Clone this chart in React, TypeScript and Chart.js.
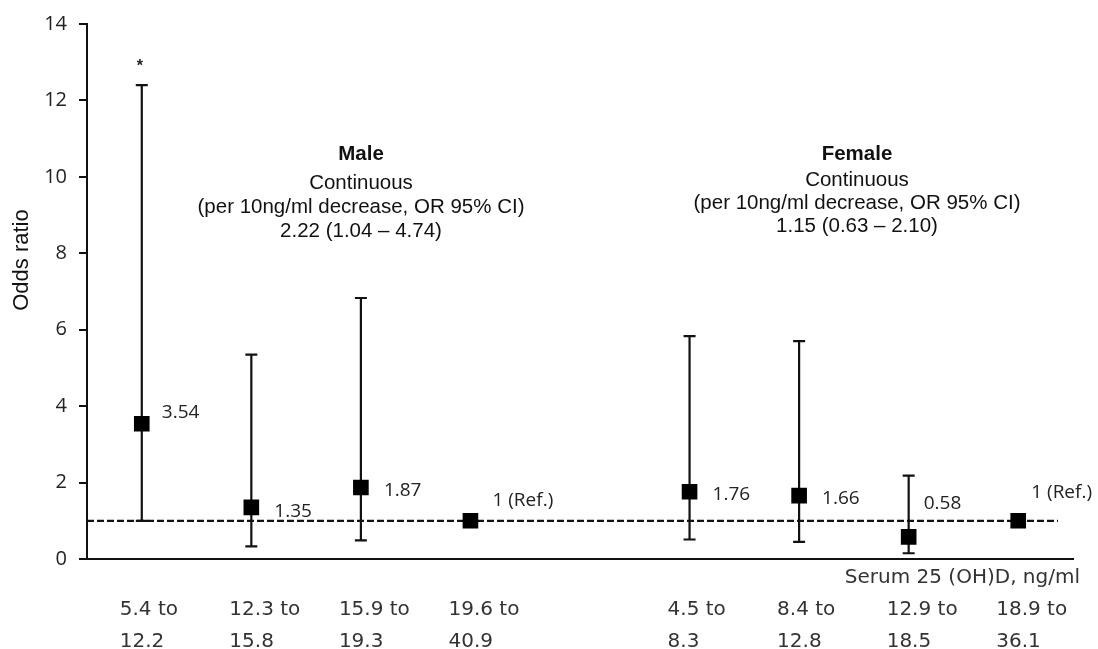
import React, { useEffect, useRef } from 'react';
import { Chart, registerables } from 'chart.js';

Chart.register(...registerables);

// ---- Data ----
const categories: (string[] | string)[] = [
  ['5.4 to', '12.2'],
  ['12.3 to', '15.8'],
  ['15.9 to', '19.3'],
  ['19.6 to', '40.9'],
  '',
  ['4.5 to', '8.3'],
  ['8.4 to', '12.8'],
  ['12.9 to', '18.5'],
  ['18.9 to', '36.1'],
];
const oddsRatio: (number | null)[] = [3.54, 1.35, 1.87, 1, null, 1.76, 1.66, 0.58, 1];
const ciLower: (number | null)[] = [1.0, 0.33, 0.49, null, null, 0.51, 0.45, 0.15, null];
const ciUpper: (number | null)[] = [12.4, 5.35, 6.83, null, null, 5.83, 5.7, 2.18, null];
const valueLabels: string[] = ['3.54', '1.35', '1.87', '1 (Ref.)', '', '1.76', '1.66', '0.58', '1 (Ref.)'];
const significance: string[] = ['*', '', '', '', '', '', '', '', ''];
const referenceValue = 1;
const yMin = 0;
const yMax = 14;
const yStep = 2;
const maleNote: string[] = ['Male', 'Continuous', '(per 10ng/ml decrease, OR 95% CI)', '2.22 (1.04 \u2013 4.74)'];
const femaleNote: string[] = ['Female', 'Continuous', '(per 10ng/ml decrease, OR 95% CI)', '1.15 (0.63 \u2013 2.10)'];
const xAxisTitle = 'Serum 25 (OH)D, ng/ml';
const yAxisTitle = 'Odds ratio';

// ---- Layout / style (pixels) ----
const labelShift: [number, number][] = [
  [20, -11], [23, 4], [23, 3], [22, -20], [0, 0], [23, 3], [23, 3], [15, -33], [13, -28],
];
const noteBlocks = [
  { lines: maleNote, x: 361, ys: [154, 183, 207, 231] },
  { lines: femaleNote, x: 857, ys: [154, 180, 203, 226] },
];

const annotatePlugin = {
  id: 'annotate',
  beforeDatasetsDraw(chart: any) {
    const { ctx, chartArea, scales } = chart;
    const x = scales.x;
    const y = scales.y;
    ctx.save();
    ctx.strokeStyle = '#111';
    ctx.lineWidth = 2.2;
    // reference line at OR = 1
    const yr = y.getPixelForValue(referenceValue);
    ctx.setLineDash([7, 3]);
    ctx.beginPath();
    ctx.moveTo(chartArea.left, yr);
    ctx.lineTo(chartArea.right - 15, yr);
    ctx.stroke();
    ctx.setLineDash([]);
    // confidence intervals
    ciUpper.forEach((hi, i) => {
      const lo = ciLower[i];
      if (hi == null || lo == null) return;
      const px = x.getPixelForValue(i);
      const pHi = y.getPixelForValue(hi);
      const pLo = y.getPixelForValue(lo);
      ctx.beginPath();
      ctx.moveTo(px, pHi);
      ctx.lineTo(px, pLo);
      ctx.moveTo(px - 6, pHi);
      ctx.lineTo(px + 6, pHi);
      ctx.moveTo(px - 6, pLo);
      ctx.lineTo(px + 6, pLo);
      ctx.stroke();
    });
    ctx.restore();
  },
  afterDatasetsDraw(chart: any) {
    const { ctx, scales } = chart;
    const x = scales.x;
    const y = scales.y;
    ctx.save();
    // value labels
    ctx.fillStyle = '#222';
    ctx.font = '19px "Open Sans"';
    ctx.textAlign = 'left';
    ctx.textBaseline = 'middle';
    valueLabels.forEach((t, i) => {
      const v = oddsRatio[i];
      if (!t || v == null) return;
      const px = x.getPixelForValue(i);
      const py = y.getPixelForValue(v);
      ctx.fillText(t, px + labelShift[i][0], py + labelShift[i][1]);
    });
    // significance marks
    ctx.font = 'bold 16px "Liberation Sans"';
    ctx.textAlign = 'center';
    ctx.textBaseline = 'alphabetic';
    significance.forEach((t, i) => {
      const hi = ciUpper[i];
      if (!t || hi == null) return;
      ctx.fillText(t, x.getPixelForValue(i) - 2, y.getPixelForValue(hi) - 14);
    });
    // notes
    ctx.fillStyle = '#111';
    ctx.textBaseline = 'middle';
    noteBlocks.forEach((b) => {
      b.lines.forEach((line, k) => {
        ctx.font = (k === 0 ? 'bold ' : '') + '20.5px "Liberation Sans"';
        ctx.fillText(line, b.x, b.ys[k]);
      });
    });
    // x axis title
    ctx.fillStyle = '#333';
    ctx.font = '20px "DejaVu Sans"';
    ctx.textAlign = 'right';
    ctx.fillText(xAxisTitle, 1080, 578);
    // y axis title
    ctx.fillStyle = '#111';
    ctx.font = '22px "Liberation Sans"';
    ctx.textAlign = 'center';
    ctx.translate(22, 260);
    ctx.rotate(-Math.PI / 2);
    ctx.fillText(yAxisTitle, 0, 0);
    ctx.restore();
  },
};

export default function App() {
  const canvasRef = useRef<HTMLCanvasElement | null>(null);

  useEffect(() => {
    if (!canvasRef.current) return;
    const chart = new Chart(canvasRef.current, {
      type: 'line',
      data: {
        labels: categories as any,
        datasets: [
          {
            data: oddsRatio,
            showLine: false,
            pointStyle: 'rect',
            pointRadius: 10,
            pointHoverRadius: 10,
            pointBackgroundColor: '#000',
            pointBorderColor: '#000',
            pointBorderWidth: 1.5,
          },
        ],
      },
      options: {
        responsive: false,
        animation: false,
        events: [],
        layout: { padding: { left: 0, right: 25, top: 23, bottom: 0 } },
        plugins: { legend: { display: false }, tooltip: { enabled: false } },
        scales: {
          x: {
            type: 'category',
            offset: true,
            grid: { display: false, drawTicks: false },
            border: { display: true, color: '#111', width: 2 },
            ticks: {
              align: 'start',
              labelOffset: -22,
              padding: 35,
              color: '#333',
              autoSkip: false,
              maxRotation: 0,
              font: { family: 'DejaVu Sans', size: 20, lineHeight: 1.6 },
            },
            afterFit(s: any) {
              s.height = 90;
              s.paddingLeft = 0;
              s.paddingRight = 0;
            },
          },
          y: {
            min: yMin,
            max: yMax,
            ticks: {
              stepSize: yStep,
              padding: 12,
              color: '#222',
              font: { family: 'Open Sans', size: 20 },
            },
            grid: { drawOnChartArea: false, drawTicks: true, tickLength: 8, color: '#111', lineWidth: 2 },
            border: { color: '#111', width: 2 },
            afterFit(s: any) {
              s.width = 87;
            },
          },
        },
      } as any,
      plugins: [annotatePlugin],
    });
    return () => chart.destroy();
  }, []);

  return (
    <div style={{ position: 'fixed', left: 0, top: 0, width: 1098, height: 649, background: '#fff' }}>
      <canvas ref={canvasRef} width={1098} height={649} style={{ display: 'block' }} />
    </div>
  );
}
